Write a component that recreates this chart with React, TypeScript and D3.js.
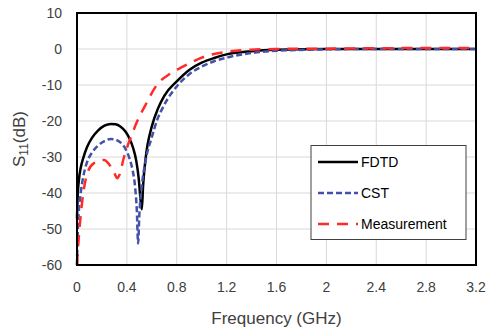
import * as d3 from "d3";
import { useEffect, useRef } from "react";

type Pt = [number, number];

// frequency (GHz), S11 (dB)
const FDTD: Pt[] = [
  [0, -47], [0.004, -42], [0.015, -36.5], [0.03, -33], [0.05, -30.3], [0.08, -27.3],
  [0.12, -24.7], [0.17, -22.6], [0.22, -21.3], [0.27, -20.8], [0.31, -20.9], [0.35, -21.6],
  [0.39, -23], [0.42, -24.8], [0.45, -27.5], [0.475, -31], [0.495, -36], [0.51, -42],
  [0.52, -44.5], [0.53, -38], [0.55, -30.5], [0.6, -21.5], [0.65, -16.5], [0.7, -13],
  [0.8, -9], [0.9, -5.8], [1.0, -3.8], [1.1, -2.5], [1.2, -1.5], [1.4, -0.6],
  [1.6, -0.2], [2.0, 0], [3.2, 0],
];

const CST: Pt[] = [
  [0, -60], [0.005, -52], [0.015, -45], [0.03, -40], [0.05, -35.5], [0.08, -31.5],
  [0.12, -28.8], [0.17, -26.8], [0.22, -25.6], [0.27, -25], [0.31, -25.2], [0.35, -26],
  [0.39, -27.8], [0.42, -30.3], [0.445, -33.5], [0.465, -38], [0.48, -45], [0.49, -54],
  [0.5, -46], [0.52, -38], [0.55, -31], [0.6, -24.5], [0.64, -20], [0.7, -15.5],
  [0.81, -10], [0.9, -7], [1.0, -4.9], [1.1, -3.4], [1.2, -2.4], [1.4, -1.1],
  [1.6, -0.5], [2.0, -0.1], [2.4, 0], [3.2, 0],
];

const MEAS: Pt[] = [
  [0, -60], [0.005, -57], [0.015, -52], [0.043, -42], [0.083, -34.5], [0.136, -31.7],
  [0.217, -30.8], [0.257, -32], [0.3, -34.5], [0.323, -35.9], [0.34, -35], [0.377, -30],
  [0.41, -26.5], [0.443, -23.5], [0.48, -20.3], [0.55, -15.5], [0.64, -10], [0.75, -6.8],
  [0.85, -4.9], [1.04, -1.9], [1.2, -0.8], [1.4, -0.2], [1.6, 0], [2.0, 0.1],
  [2.4, 0.2], [2.8, 0.3], [3.2, 0.3],
];

const X_TICKS = [0, 0.4, 0.8, 1.2, 1.6, 2, 2.4, 2.8, 3.2];
const Y_TICKS = [10, 0, -10, -20, -30, -40, -50, -60];

const SERIES = [
  { name: "FDTD", data: FDTD, color: "#000000", dash: null },
  { name: "CST", data: CST, color: "#4352a8", dash: "6,3" },
  { name: "Measurement", data: MEAS, color: "#ff2a2a", dash: "11,8" },
];

export default function App() {
  const ref = useRef<SVGSVGElement | null>(null);
  useEffect(() => {
    if (!ref.current) return;
    const width = 489;
    const height = 329;
    const margin = { top: 13, right: 13, bottom: 64, left: 77 };
    const svg = d3.select(ref.current);
    svg.selectAll("*").remove();

    const x = d3.scaleLinear().domain([0, 3.2]).range([margin.left, width - margin.right]);
    const y = d3.scaleLinear().domain([-60, 10]).range([height - margin.bottom, margin.top]);
    const font = "'Liberation Sans', Arial, sans-serif";

    // grid
    const grid = svg.append("g").attr("stroke", "#d9d9d9").attr("stroke-width", 1);
    grid.selectAll("line.v").data(X_TICKS).join("line")
      .attr("x1", (d) => x(d)).attr("x2", (d) => x(d))
      .attr("y1", margin.top).attr("y2", height - margin.bottom);
    grid.selectAll("line.h").data(Y_TICKS).join("line")
      .attr("x1", margin.left).attr("x2", width - margin.right)
      .attr("y1", (d) => y(d)).attr("y2", (d) => y(d));

    // curves
    const line = d3.line<Pt>().x((d) => x(d[0])).y((d) => y(d[1])).curve(d3.curveMonotoneX);
    const plot = svg.append("g");
    SERIES.forEach((s) => {
      plot.append("path")
        .attr("d", line(s.data))
        .attr("fill", "none")
        .attr("stroke", s.color)
        .attr("stroke-width", 2.5)
        .attr("stroke-dasharray", s.dash);
    });

    // frame
    svg.append("rect")
      .attr("x", margin.left).attr("y", margin.top)
      .attr("width", width - margin.left - margin.right)
      .attr("height", height - margin.top - margin.bottom)
      .attr("fill", "none").attr("stroke", "#000").attr("stroke-width", 2);

    // tick labels
    svg.append("g").selectAll("text").data(Y_TICKS).join("text")
      .attr("x", margin.left - 15).attr("y", (d) => y(d)).attr("dy", "0.35em")
      .attr("text-anchor", "end").attr("font-family", font).attr("font-size", 14)
      .attr("fill", "#404040").text((d) => String(d));
    svg.append("g").selectAll("text").data(X_TICKS).join("text")
      .attr("x", (d) => x(d)).attr("y", height - margin.bottom + 22).attr("dy", "0.35em")
      .attr("text-anchor", "middle").attr("font-family", font).attr("font-size", 14)
      .attr("fill", "#404040").text((d) => String(d));

    // axis titles
    svg.append("text")
      .attr("x", (margin.left + width - margin.right) / 2).attr("y", 318).attr("dy", "0.35em")
      .attr("text-anchor", "middle").attr("font-family", font).attr("font-size", 17)
      .attr("fill", "#404040").text("Frequency (GHz)");
    const yt = svg.append("text")
      .attr("transform", `translate(25,${(margin.top + height - margin.bottom) / 2}) rotate(-90)`)
      .attr("text-anchor", "middle").attr("font-family", font).attr("font-size", 17)
      .attr("fill", "#404040");
    yt.append("tspan").text("S");
    yt.append("tspan").attr("font-size", 12).attr("dy", 3).text("11");
    yt.append("tspan").attr("dy", -3).text("(dB)");

    // legend
    const lg = svg.append("g");
    lg.append("rect").attr("x", 311).attr("y", 145.5).attr("width", 155).attr("height", 94)
      .attr("fill", "#fff").attr("stroke", "#404040").attr("stroke-width", 1);
    SERIES.forEach((s, i) => {
      const ly = 162 + i * 31;
      lg.append("line").attr("x1", 318).attr("x2", 358).attr("y1", ly).attr("y2", ly)
        .attr("stroke", s.color).attr("stroke-width", 2.5).attr("stroke-dasharray", s.dash);
      lg.append("text").attr("x", 361).attr("y", ly).attr("dy", "0.35em")
        .attr("font-family", font).attr("font-size", 14).attr("fill", "#000").text(s.name);
    });
  }, []);
  return (
    <svg ref={ref} width={489} height={329}
      style={{ position: "absolute", left: 0, top: 0, background: "#fff" }} />
  );
}
